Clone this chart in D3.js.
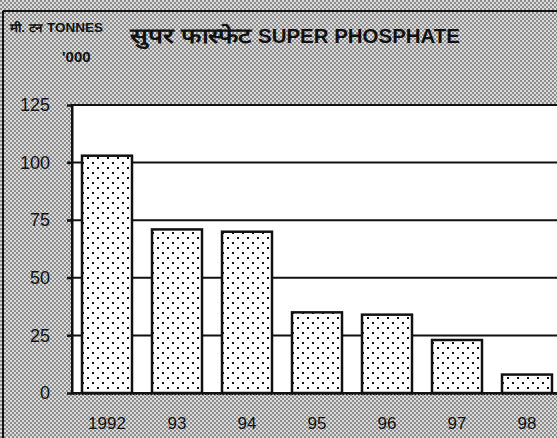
<!DOCTYPE html>
<html>
<head>
<meta charset="UTF-8">
<script src="https://d3js.org/d3.v7.min.js"></script>
<style>
  body { margin: 0; background: #fff; }
  text { font-family: "Liberation Sans", Arial, sans-serif; }
</style>
</head>
<body>
<svg width="557" height="438"></svg>
<script>
// data ('000 tonnes)
const years = ["1992", "93", "94", "95", "96", "97", "98"];
const values = [103, 71, 70, 35, 34, 23, 8];
const yTicks = [0, 25, 50, 75, 100, 125];

const svg = d3.select("svg");
const W = 557, H = 438;

// plot box
const plotLeft = 72, plotTop = 105, plotBottom = 393, plotRight = 562;

const defs = svg.append("defs");

// halftone grey background
const bg = defs.append("pattern")
    .attr("id", "halftone")
    .attr("width", 4).attr("height", 4)
    .attr("patternUnits", "userSpaceOnUse");
bg.append("rect").attr("width", 4).attr("height", 4).attr("fill", "#dcdcdc");
bg.append("rect").attr("x", 0).attr("y", 0).attr("width", 2).attr("height", 2).attr("fill", "#8c8c8c");
bg.append("rect").attr("x", 2).attr("y", 2).attr("width", 2).attr("height", 2).attr("fill", "#8c8c8c");

// sparse dots inside bars
const dots = defs.append("pattern")
    .attr("id", "dots")
    .attr("width", 10).attr("height", 10)
    .attr("patternUnits", "userSpaceOnUse");
dots.append("rect").attr("width", 10).attr("height", 10).attr("fill", "#fff");
dots.append("rect").attr("x", 2).attr("y", 2).attr("width", 2).attr("height", 2).attr("fill", "#111");
dots.append("rect").attr("x", 7).attr("y", 7).attr("width", 2).attr("height", 2).attr("fill", "#111");

svg.append("rect").attr("width", W).attr("height", H).attr("fill", "url(#halftone)");

// frame lines
svg.append("line").attr("x1", 3).attr("x2", W).attr("y1", 11).attr("y2", 11)
    .attr("stroke", "#111").attr("stroke-width", 2);
svg.append("line").attr("x1", 3).attr("x2", 3).attr("y1", 11).attr("y2", H)
    .attr("stroke", "#111").attr("stroke-width", 2);

const x = d3.scaleBand()
    .domain(years)
    .range([plotLeft, plotRight])
    .paddingInner(0.2857)
    .paddingOuter(0.1429);

const y = d3.scaleLinear()
    .domain([0, 125])
    .range([plotBottom, plotTop]);

// white plot area
svg.append("rect")
    .attr("x", plotLeft).attr("y", y(125))
    .attr("width", plotRight - plotLeft).attr("height", y(0) - y(125))
    .attr("fill", "#fff")
    .attr("stroke", "#111").attr("stroke-width", 2);

// grid lines
svg.append("g")
    .selectAll("line")
    .data(yTicks.filter(d => d > 0 && d < 125))
    .join("line")
    .attr("x1", plotLeft - 5).attr("x2", plotRight)
    .attr("y1", d => y(d)).attr("y2", d => y(d))
    .attr("stroke", "#111").attr("stroke-width", 2);

// y axis
const yAxis = svg.append("g")
    .attr("transform", `translate(${plotLeft},0)`)
    .call(d3.axisLeft(y).tickValues(yTicks).tickSize(5).tickPadding(17));
yAxis.select(".domain").attr("stroke", "#111").attr("stroke-width", 2);
yAxis.selectAll(".tick line").attr("stroke", "#111").attr("stroke-width", 2);
yAxis.selectAll("text")
    .attr("font-size", 18).attr("fill", "#111")
    .attr("font-family", "Liberation Sans, Arial, sans-serif");

// bars
svg.append("g")
    .selectAll("rect")
    .data(values)
    .join("rect")
    .attr("x", (d, i) => x(years[i]))
    .attr("y", d => y(d))
    .attr("width", x.bandwidth())
    .attr("height", d => y(0) - y(d))
    .attr("fill", "url(#dots)")
    .attr("stroke", "#111").attr("stroke-width", 2.5);

// x axis
const xAxis = svg.append("g")
    .attr("transform", `translate(0,${plotBottom})`)
    .call(d3.axisBottom(x).tickSize(0).tickPadding(24));
xAxis.select(".domain").attr("stroke", "#111").attr("stroke-width", 3)
    .attr("stroke-dasharray", "2,1");
xAxis.selectAll("text")
    .attr("font-size", 17).attr("fill", "#111")
    .attr("font-family", "Liberation Sans, Arial, sans-serif");

// titles
svg.append("text")
    .attr("x", 130).attr("y", 43)
    .attr("font-size", 21).attr("font-weight", "bold").attr("fill", "#111")
    .attr("font-family", "Noto Sans, Noto Sans Devanagari, Liberation Sans, sans-serif")
    .attr("textLength", 122).attr("lengthAdjust", "spacingAndGlyphs")
    .text("सुपर फास्फेट");

svg.append("text")
    .attr("x", 258).attr("y", 43)
    .attr("font-size", 20).attr("font-weight", "bold").attr("fill", "#111")
    .attr("textLength", 202).attr("lengthAdjust", "spacingAndGlyphs")
    .text("SUPER PHOSPHATE");

svg.append("text")
    .attr("x", 10).attr("y", 32)
    .attr("font-size", 12).attr("font-weight", "bold").attr("fill", "#111")
    .attr("textLength", 93).attr("lengthAdjust", "spacingAndGlyphs")
    .text("मी. टन TONNES");

svg.append("text")
    .attr("x", 62).attr("y", 62)
    .attr("font-size", 15).attr("font-weight", "bold").attr("fill", "#111")
    .text("'000");
</script>
</body>
</html>
